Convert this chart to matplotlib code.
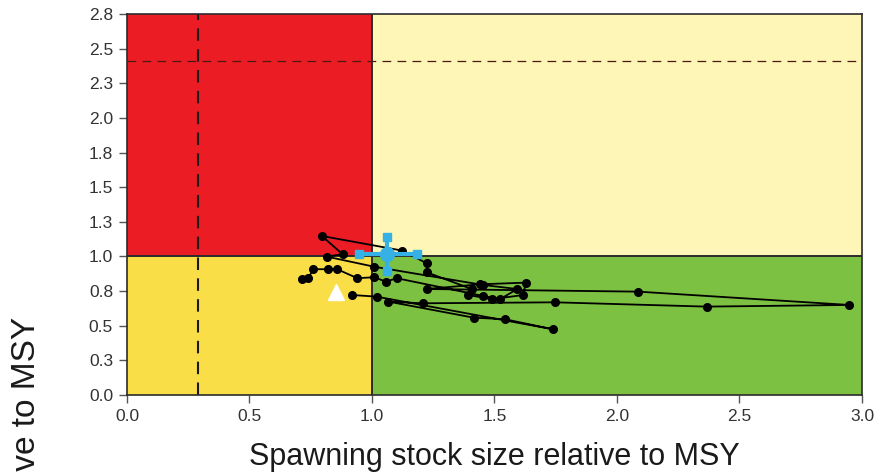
import matplotlib.pyplot as plt
import matplotlib.patches as mpatches

plt.rcParams['font.family'] = ['Liberation Sans', 'DejaVu Sans']

# trajectory (spawning stock / MSY, fishing mortality / MSY)
ssb = [0.713, 0.740, 0.760, 0.822, 0.858, 0.940, 1.009, 1.057, 1.101, 1.454,
       1.522, 1.593, 1.454, 1.009, 0.815, 0.880, 0.795, 1.124, 1.223, 1.223,
       1.407, 1.393, 1.489, 1.618, 1.627, 1.441, 1.223, 2.087, 2.947, 2.366,
       1.747, 1.207, 1.067, 1.416, 1.543, 1.740, 1.019, 0.917]
fish = [0.835, 0.843, 0.908, 0.908, 0.908, 0.843, 0.850, 0.818, 0.843, 0.715,
        0.691, 0.765, 0.794, 0.926, 0.999, 1.016, 1.148, 1.042, 0.951, 0.886,
        0.765, 0.722, 0.691, 0.722, 0.811, 0.799, 0.765, 0.746, 0.650, 0.638,
        0.669, 0.662, 0.674, 0.558, 0.547, 0.474, 0.710, 0.722]

# current estimate with interval
cur_x, cur_y = 1.062, 1.016
cur_x_lo, cur_x_hi = 0.947, 1.182
cur_y_lo, cur_y_hi = 0.897, 1.143

# start marker
tri_x, tri_y = 0.853, 0.746

# reference lines
blim = 0.29
flim = 2.41

yticks = [0.0, 0.25, 0.5, 0.75, 1.0, 1.25, 1.5, 1.75, 2.0, 2.25, 2.5, 2.75]
ytick_labels = ['0.0', '0.3', '0.5', '0.8', '1.0', '1.3', '1.5', '1.8', '2.0', '2.3', '2.5', '2.8']
xticks = [0.0, 0.5, 1.0, 1.5, 2.0, 2.5, 3.0]
xtick_labels = ['0.0', '0.5', '1.0', '1.5', '2.0', '2.5', '3.0']

fig = plt.figure(figsize=(8.8, 4.73), dpi=100)
ax = fig.add_axes([0.1443, 0.1649, 0.8352, 0.8055])

xmax, ymax = 3.0, 2.75
ax.add_patch(mpatches.Rectangle((0, 1), 1, ymax - 1, fc='#EC1C24', ec='none', zorder=0))
ax.add_patch(mpatches.Rectangle((1, 1), xmax - 1, ymax - 1, fc='#FEF6B6', ec='none', zorder=0))
ax.add_patch(mpatches.Rectangle((0, 0), 1, 1, fc='#F9DE48', ec='none', zorder=0))
ax.add_patch(mpatches.Rectangle((1, 0), xmax - 1, 1, fc='#7DC142', ec='none', zorder=0))
ax.axvline(1.0, color='#2b2b2b', lw=1.4, zorder=1)
ax.axhline(1.0, color='#2b2b2b', lw=1.4, zorder=1)

ax.axvline(blim, color='#1a1a1a', lw=1.5, ls=(0, (6, 4)), zorder=1)
ax.axhline(flim, color='#4a1a10', lw=0.9, ls=(0, (7, 5)), zorder=1)

ax.plot(ssb, fish, color='black', lw=1.3, marker='o', ms=5.5, zorder=3)

blue = '#35B1E6'
ax.plot([cur_x_lo, cur_x_hi], [cur_y, cur_y], color=blue, lw=3, zorder=4)
ax.plot([cur_x, cur_x], [cur_y_lo, cur_y_hi], color=blue, lw=3, zorder=4)
ax.plot([cur_x_lo, cur_x_hi, cur_x, cur_x], [cur_y, cur_y, cur_y_lo, cur_y_hi],
        ls='none', marker='s', ms=6, color=blue, zorder=4)
ax.plot(cur_x, cur_y, marker='o', ms=10, color=blue, zorder=4)

ax.plot(tri_x, tri_y, marker='^', ms=11, color='white', mec='white', zorder=5)

ax.set_xlim(0, xmax)
ax.set_ylim(0, ymax)
ax.set_xticks(xticks)
ax.set_xticklabels(xtick_labels)
ax.set_yticks(yticks)
ax.set_yticklabels(ytick_labels)
ax.tick_params(axis='both', direction='out', length=6, width=1, color='#555555',
               labelsize=12.5, labelcolor='#333333')
ax.tick_params(axis='x', pad=4)
ax.tick_params(axis='y', pad=4)
for sp in ax.spines.values():
    sp.set_color('#2b2b2b')
    sp.set_linewidth(1.2)

ax.set_xlabel('Spawning stock size relative to MSY', fontsize=22, color='#1a1a1a', labelpad=13)
fig.text(0.03, 0.33, 'Fishing mortality relative to MSY', rotation=90,
         ha='center', va='top', fontsize=24, color='#1a1a1a')

plt.savefig('out.png', dpi=100)
